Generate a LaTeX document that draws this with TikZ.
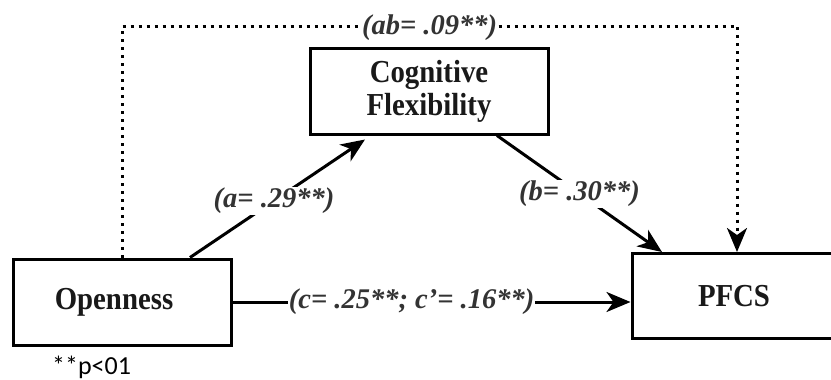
\documentclass[tikz,border=0pt]{standalone}
\usepackage{fontspec}
\setmainfont{Liberation Serif}
\newfontfamily\boxfont[FakeStretch=0.9]{Liberation Serif}
\newfontfamily\notefont{Carlito}
\usetikzlibrary{arrows.meta}
\definecolor{lbl}{gray}{0.2}
\tikzset{
  boxnode/.style={draw, line width=3pt, rectangle, inner sep=0pt, align=center,
    font=\boxfont\fontsize{32}{33}\selectfont\bfseries, text=black!90},
  arrowline/.style={line width=3pt, -{Stealth[length=24pt,width=20pt,inset=7pt]}},
  dotline/.style={line width=3pt, dash pattern=on 3pt off 5pt, -{Stealth[length=24pt,width=20pt,inset=7pt]}},
  lblnode/.style={fill=white, inner sep=1pt, font=\fontsize{28.5}{30}\selectfont\bfseries\itshape, text=lbl},
}
\begin{document}
\begin{tikzpicture}[x=1pt,y=-1pt]
\useasboundingbox (0,0) rectangle (831,380);
\begin{scope}
\clip (0,0) rectangle (831,380);
\node[boxnode, minimum width=238pt, minimum height=86pt] (cog) at (429,91) {Cognitive\\Flexibility};
\node[boxnode, minimum width=218pt, minimum height=86pt] (open) at (122,302) {Openness\hspace*{16pt}};
\node[boxnode, minimum width=204pt, minimum height=85pt] (pfcs) at (734,296) {PFCS};
\end{scope}
\node[font=\notefont\fontsize{26}{28}\selectfont, anchor=base west, inner sep=0pt] (note) at (52,374) {**p<01};

\coordinate (aS) at ([xshift=68pt]open.north);
\coordinate (aE) at ([xshift=-64pt,yshift=-4pt]cog.south);
\coordinate (bS) at ([xshift=68pt]cog.south);
\coordinate (bE) at ([xshift=-72pt]pfcs.north);
\coordinate (dT) at ([xshift=3pt]pfcs.north);
\coordinate (topline) at (0,26);

\draw[arrowline] (aS) -- node[lblnode, pos=0.48] (la) {(a= .29**)} (aE);
\draw[arrowline] (bS) -- node[lblnode, pos=0.5] (lb) {(b= .30**)} (bE);
\draw[arrowline] (open.east) -- node[lblnode, pos=0.45] (lc) {(c= .25**; c'= .16**)} (open.east -| pfcs.west);
\draw[dotline] (open.north) -- (open.north |- topline) -- node[lblnode, midway, yshift=-2pt] (lab) {(ab= .09**)} (dT |- topline) -- (dT);
\end{tikzpicture}
\end{document}
